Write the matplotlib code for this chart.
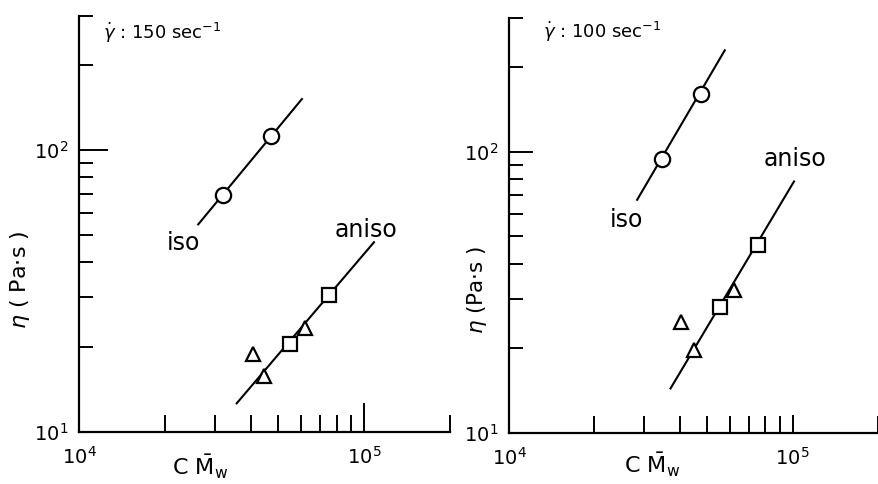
import matplotlib
matplotlib.use("Agg")
import matplotlib.pyplot as plt
from matplotlib.ticker import LogLocator, LogFormatterSciNotation, NullFormatter

plt.rcParams["mathtext.fontset"] = "dejavusans"

# gamma-dot = 150 1/s
iso_150_mw = [31960, 47040]
iso_150_eta = [69.2, 112.1]
iso_150_fit_mw = [26180, 60480]
iso_150_fit_eta = [54.5, 151.7]
sq_150_mw = [55030, 75110]
sq_150_eta = [20.6, 30.6]
tri_150_mw = [40770, 44570, 62130]
tri_150_eta = [18.9, 15.8, 23.4]
aniso_150_fit_mw = [35720, 108200]
aniso_150_fit_eta = [12.64, 47.1]

# gamma-dot = 100 1/s
iso_100_mw = [34670, 47690]
iso_100_eta = [94.2, 160.5]
iso_100_fit_mw = [28300, 57620]
iso_100_fit_eta = [67.5, 229.4]
sq_100_mw = [55460, 75500]
sq_100_eta = [28.1, 46.7]
tri_100_mw = [40550, 44810, 62120]
tri_100_eta = [24.8, 19.7, 32.3]
aniso_100_fit_mw = [37100, 101100]
aniso_100_fit_eta = [14.4, 78.4]

panels = [
    dict(rect=[0.0899, 0.1074, 0.4221, 0.8605], rate="150",
         iso=(iso_150_mw, iso_150_eta), iso_fit=(iso_150_fit_mw, iso_150_fit_eta),
         sq=(sq_150_mw, sq_150_eta), tri=(tri_150_mw, tri_150_eta),
         aniso_fit=(aniso_150_fit_mw, aniso_150_fit_eta),
         iso_lbl=(23230, 46.8), aniso_lbl=(101600, 52.0),
         rate_pos=(0.065, 0.958), xlab_pos=(0.326, -0.084), ylab_pos=(-0.159, 0.365),
         ylabel=r"$\eta$ ( Pa$\cdot$s )", ylab_size=16, ymaj=21, xmaj=21),
    dict(rect=[0.5791, 0.1054, 0.4198, 0.8583], rate="100",
         iso=(iso_100_mw, iso_100_eta), iso_fit=(iso_100_fit_mw, iso_100_fit_eta),
         sq=(sq_100_mw, sq_100_eta), tri=(tri_100_mw, tri_100_eta),
         aniso_fit=(aniso_100_fit_mw, aniso_100_fit_eta),
         iso_lbl=(25970, 57.3), aniso_lbl=(101600, 94.2),
         rate_pos=(0.092, 0.965), xlab_pos=(0.388, -0.077), ylab_pos=(-0.087, 0.344),
         ylabel=r"$\eta$ (Pa$\cdot$s )", ylab_size=15.5, ymaj=17, xmaj=13),
]

fig = plt.figure(figsize=(8.79, 4.84), dpi=100)

for p in panels:
    ax = fig.add_axes(p["rect"])
    ax.set_xscale("log")
    ax.set_yscale("log")
    ax.set_xlim(1e4, 2e5)
    ax.set_ylim(10, 300)

    for side in ("top", "right"):
        ax.spines[side].set_visible(False)
    for side in ("left", "bottom"):
        ax.spines[side].set_linewidth(1.6)

    ax.xaxis.set_major_locator(LogLocator(base=10))
    ax.xaxis.set_minor_locator(LogLocator(base=10, subs=range(2, 10)))
    ax.yaxis.set_major_locator(LogLocator(base=10))
    ax.yaxis.set_minor_locator(LogLocator(base=10, subs=range(2, 10)))
    ax.xaxis.set_major_formatter(LogFormatterSciNotation())
    ax.yaxis.set_major_formatter(LogFormatterSciNotation())
    ax.xaxis.set_minor_formatter(NullFormatter())
    ax.yaxis.set_minor_formatter(NullFormatter())

    ax.tick_params(which="both", direction="in", width=1.4, labelsize=14)
    ax.tick_params(axis="y", which="major", length=p["ymaj"], pad=8)
    ax.tick_params(axis="y", which="minor", length=10)
    ax.tick_params(axis="x", which="major", length=p["xmaj"], pad=10)
    ax.tick_params(axis="x", which="minor", length=12.5)

    # fitted lines
    ax.plot(*p["iso_fit"], color="black", lw=1.5, zorder=2)
    ax.plot(*p["aniso_fit"], color="black", lw=1.5, zorder=2)

    # measured points
    ax.plot(*p["iso"], "o", ms=11, mfc="white", mec="black", mew=1.6, ls="none", zorder=3)
    ax.plot(*p["sq"], "s", ms=9.5, mfc="white", mec="black", mew=1.6, ls="none", zorder=3)
    ax.plot(*p["tri"], "^", ms=10.5, mfc="white", mec="black", mew=1.6, ls="none", zorder=3)

    ax.text(*p["iso_lbl"], "iso", fontsize=17, ha="center", va="center")
    ax.text(*p["aniso_lbl"], "aniso", fontsize=17, ha="center", va="center")

    ax.text(*p["rate_pos"], r"$\dot{\gamma}$ : " + p["rate"] + r" sec$^{-1}$",
            transform=ax.transAxes, fontsize=13, ha="left", va="center")
    ax.text(*p["xlab_pos"], r"C $\bar{\mathrm{M}}_{\mathrm{w}}$",
            transform=ax.transAxes, fontsize=16, ha="center", va="center")
    ax.text(*p["ylab_pos"], p["ylabel"], transform=ax.transAxes, fontsize=p["ylab_size"],
            ha="center", va="center", rotation=90)

fig.savefig("out.png", dpi=100)
